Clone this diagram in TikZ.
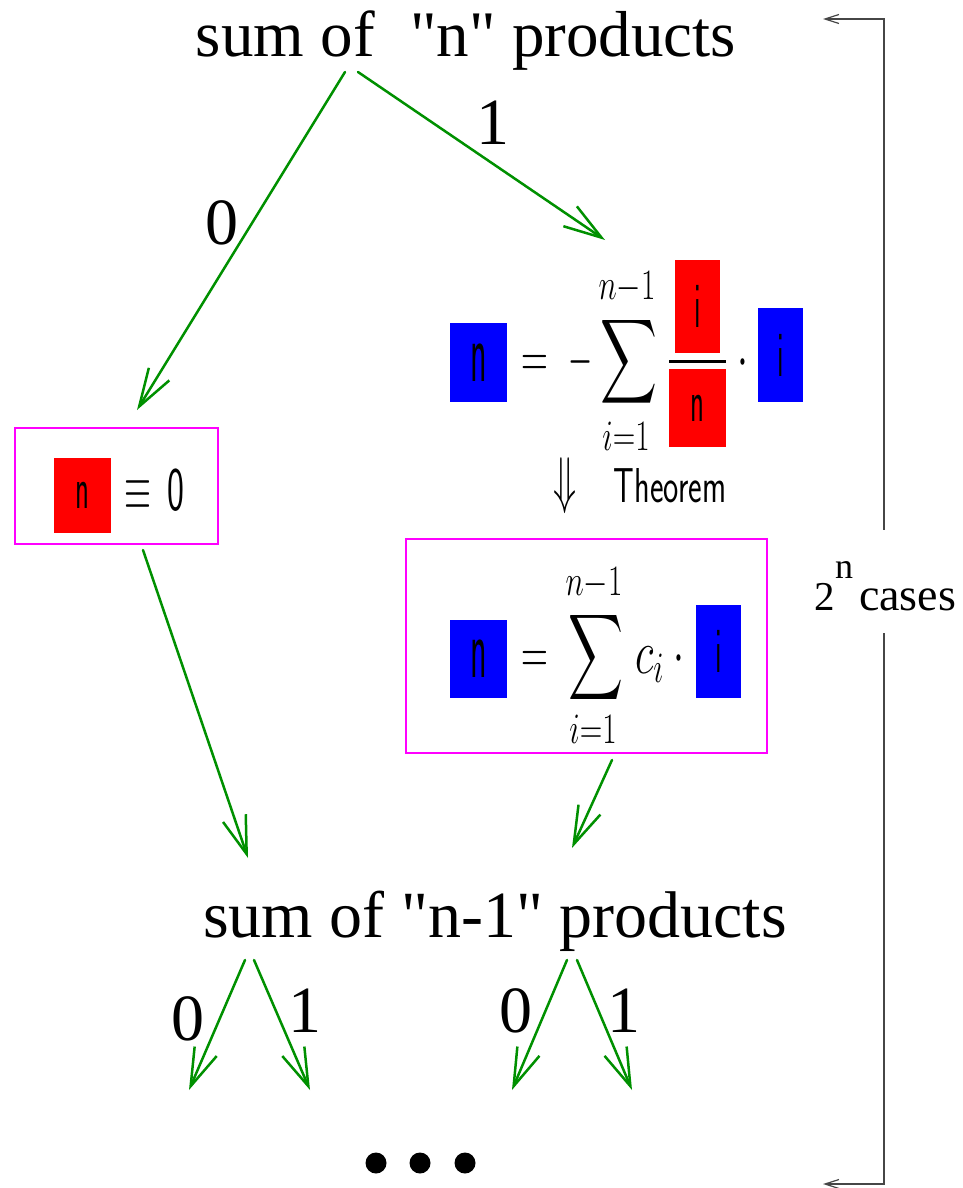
\RequirePackage{fix-cm}
\documentclass[tikz,border=0pt]{standalone}
\usepackage{exscale}
\usepackage{fontspec}
\setmainfont{Liberation Serif}[Ligatures=TeXOff]
\usepackage{graphicx}
\usetikzlibrary{arrows.meta}
\definecolor{fgreen}{RGB}{0,144,0}
\definecolor{brgray}{RGB}{70,70,70}
\definecolor{mag}{RGB}{255,0,255}
\definecolor{pred}{RGB}{255,0,0}
\definecolor{pblue}{RGB}{0,0,255}
\newcommand\fs[1]{\fontsize{#1}{#1}\selectfont}
\newcommand\sq[3]{\scalebox{#1}[1]{\fs{#2}#3}}
\newcommand\bign{\sq{0.40}{86}{\sffamily n}}
\newcommand\smn{\sq{0.48}{60}{\sffamily n}}
\newcommand\bigi{\sq{0.45}{65}{\sffamily i}}
\newcommand\bigsum[2]{\resizebox{#1}{#2}{$\displaystyle\sum$}}
\tikzset{
  every node/.style={inner sep=0pt, outer sep=0pt},
  gar/.style={draw=fgreen, line width=2.5pt, line cap=round, line join=round,
    -{Straight Barb[length=38pt,width=24pt,line width=2.5pt]}},
  mbox/.style={draw=mag, line width=2.5pt},
  cbox/.style={draw=none, inner sep=0pt},
  brk/.style={draw=brgray, line width=1.2pt},
  brtip/.style={{Straight Barb[length=14pt,width=9pt,line width=1.2pt]}-},
}
\begin{document}
\begin{tikzpicture}[x=1pt,y=-1pt]
\useasboundingbox (0,0) rectangle (963,1188);
% titles
\node[anchor=base] (top) at (466,57) {\fs{65}sum of\hspace{0.3em} "n" products};
\node[anchor=base] (bot) at (495,937) {\fs{66}sum of "n-1" products};
% branch labels
\node[anchor=base] (l0) at (222,244) {\fs{66}0};
\node[anchor=base] (l1) at (493,145) {\fs{66}1};
% left box
\node[mbox, minimum width=203pt, minimum height=116pt] (lbox) at (116.5,486) {};
\node[cbox, fill=pred, minimum width=57pt, minimum height=75pt] (rn0) at (82.5,495.5) {\smn};
\node[anchor=base] (eqv) at (138,509.5) {\sq{0.56}{62}{$\equiv$}};
\node[anchor=base] (zero) at (176,510) {\sq{0.58}{62}{\sffamily 0}};
% upper right formula
\node[cbox, fill=pblue, minimum width=57pt, minimum height=79pt] (bn1) at (478.5,362.5) {\bign};
\node[anchor=base] (eq1) at (535,377) {\sq{0.6}{62}{$=$}};
\node[anchor=base] (mi1) at (581,377) {\sq{0.5}{62}{$-$}};
\node (sum1) at (628.5,361.5) {\bigsum{57pt}{62pt}};
\node[anchor=base] (up1) at (627,299) {\sq{0.72}{62}{$\scriptstyle n-1$}};
\node[anchor=base] (lo1) at (626,450) {\sq{0.72}{62}{$\scriptstyle i=1$}};
\node[cbox, fill=pred, minimum width=45pt, minimum height=93pt] (rnum) at (697.5,306.5) {\bigi};
\node[cbox, fill=black, minimum width=57pt, minimum height=3pt] (fbar) at (697.5,361) {};
\node[cbox, fill=pred, minimum width=57pt, minimum height=78pt] (rden) at (697.5,408) {\smn};
\node[anchor=base] (dot1) at (743,377) {\sq{0.63}{62}{$\cdot$}};
\node[cbox, fill=pblue, minimum width=45pt, minimum height=94pt] (bi1) at (780.5,355) {\bigi};
% theorem
\node[anchor=base] (dar) at (565,501) {\sq{0.6}{63}{$\Downarrow$}};
\node[anchor=base] (thm) at (670,502) {\sq{0.66}{49}{\sffamily Theorem}};
% right box
\node[mbox, minimum width=361pt, minimum height=214pt] (rbox) at (586.5,646) {};
\node[cbox, fill=pblue, minimum width=57pt, minimum height=78pt] (bn2) at (478.5,659) {\bign};
\node[anchor=base] (eq2) at (535,673) {\sq{0.6}{62}{$=$}};
\node (sum2) at (595.5,657) {\bigsum{55pt}{63pt}};
\node[anchor=base] (up2) at (594,595) {\sq{0.72}{62}{$\scriptstyle n-1$}};
\node[anchor=base] (lo2) at (593,743) {\sq{0.72}{62}{$\scriptstyle i=1$}};
\node[anchor=base west] (ci) at (635,673) {\sq{0.7}{62}{$c_i$}};
\node[anchor=base] (dot2) at (679,673) {\sq{0.63}{62}{$\cdot$}};
\node[cbox, fill=pblue, minimum width=45pt, minimum height=93pt] (bi2) at (718.5,651.5) {\bigi};
% arrows
\coordinate (a1s) at (345,72);  \coordinate (a1e) at (137,410);
\coordinate (a2s) at (358,72);  \coordinate (a2e) at (605,240);
\coordinate (a3s) at (143,550); \coordinate (a3e) at (248,858);
\coordinate (a4s) at (612,760); \coordinate (a4e) at (572,848);
\coordinate (b1s) at (245,960); \coordinate (b1e) at (189,1090);
\coordinate (b2s) at (254,960); \coordinate (b2e) at (310,1090);
\coordinate (b3s) at (567,960); \coordinate (b3e) at (512,1090);
\coordinate (b4s) at (577,960); \coordinate (b4e) at (632,1090);
\draw[gar] (a1s) -- (a1e);
\draw[gar] (a2s) -- (a2e);
\draw[gar] (a3s) -- (a3e);
\draw[gar] (a4s) -- (a4e);
\draw[gar] (b1s) -- (b1e);
\draw[gar] (b2s) -- (b2e);
\draw[gar] (b3s) -- (b3e);
\draw[gar] (b4s) -- (b4e);
\node[anchor=base] (b0a) at (188,1040) {\fs{66}0};
\node[anchor=base] (b1a) at (305,1032) {\fs{66}1};
\node[anchor=base] (b0b) at (516,1032) {\fs{66}0};
\node[anchor=base] (b1b) at (624,1032) {\fs{66}1};
% dots
\fill (376,1163) circle (10.5pt);
\fill (420,1163) circle (10.5pt);
\fill (465,1163) circle (10.5pt);
% bracket
\coordinate (k1) at (823,19); \coordinate (k2) at (884,19); \coordinate (k3) at (884,530);
\coordinate (k4) at (884,633); \coordinate (k5) at (884,1184); \coordinate (k6) at (823,1184);
\draw[brk, brtip] (k1) -- (k2) -- (k3);
\draw[brk, brtip] (k6) -- (k5) -- (k4);
\node[anchor=base] (two) at (825,610) {\fs{41}2};
\node[anchor=base] (sup) at (844,578) {\fs{36}n};
\node[anchor=base west] (cases) at (859,610) {\fs{46}cases};
\end{tikzpicture}
\end{document}
